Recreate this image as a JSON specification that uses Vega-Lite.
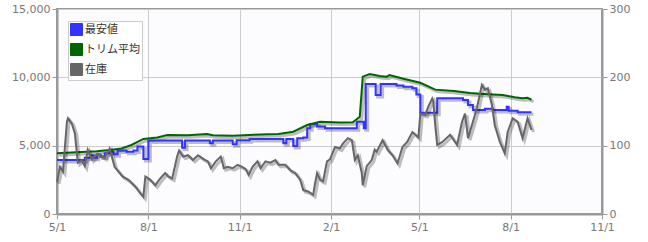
{
  "$schema": "https://vega.github.io/schema/vega-lite/v6.json",
  "width": 545,
  "height": 205,
  "autosize": "none",
  "padding": {"left": 57, "top": 9, "right": 46, "bottom": 28},
  "background": "white",
  "config": {
    "view": {"fill": "#fcfcff", "stroke": "#999999", "strokeWidth": 2},
    "font": "DejaVu Sans",
    "axis": {
      "labelFont": "DejaVu Sans",
      "labelFontSize": 11,
      "labelColor": "#777777",
      "domainColor": "#999999",
      "domainWidth": 2,
      "tickColor": "#999999",
      "tickSize": 5,
      "gridColor": "#cccccc",
      "title": null
    }
  },
  "datasets": {
    "price": [
      {"date": "2022-05-01", "series": "最安値", "value": 3950},
      {"date": "2022-05-29", "series": "最安値", "value": 4120},
      {"date": "2022-06-04", "series": "最安値", "value": 4300},
      {"date": "2022-06-07", "series": "最安値", "value": 4120},
      {"date": "2022-06-10", "series": "最安値", "value": 4350},
      {"date": "2022-06-14", "series": "最安値", "value": 4200},
      {"date": "2022-06-18", "series": "最安値", "value": 4450},
      {"date": "2022-06-23", "series": "最安値", "value": 4550},
      {"date": "2022-06-27", "series": "最安値", "value": 4380},
      {"date": "2022-07-01", "series": "最安値", "value": 4650},
      {"date": "2022-07-10", "series": "最安値", "value": 4550},
      {"date": "2022-07-17", "series": "最安値", "value": 4650},
      {"date": "2022-07-21", "series": "最安値", "value": 4930},
      {"date": "2022-07-27", "series": "最安値", "value": 4020},
      {"date": "2022-08-01", "series": "最安値", "value": 5370},
      {"date": "2022-09-04", "series": "最安値", "value": 4850},
      {"date": "2022-09-07", "series": "最安値", "value": 5370},
      {"date": "2022-10-02", "series": "最安値", "value": 5170},
      {"date": "2022-10-05", "series": "最安値", "value": 5370},
      {"date": "2022-10-25", "series": "最安値", "value": 5100},
      {"date": "2022-10-29", "series": "最安値", "value": 5400},
      {"date": "2022-11-11", "series": "最安値", "value": 5490},
      {"date": "2022-12-15", "series": "最安値", "value": 5170},
      {"date": "2022-12-18", "series": "最安値", "value": 5490},
      {"date": "2022-12-25", "series": "最安値", "value": 4980},
      {"date": "2022-12-29", "series": "最安値", "value": 5540},
      {"date": "2023-01-04", "series": "最安値", "value": 5600},
      {"date": "2023-01-08", "series": "最安値", "value": 6270},
      {"date": "2023-01-11", "series": "最安値", "value": 6590},
      {"date": "2023-01-18", "series": "最安値", "value": 6400},
      {"date": "2023-01-26", "series": "最安値", "value": 6270},
      {"date": "2023-02-27", "series": "最安値", "value": 6750},
      {"date": "2023-03-06", "series": "最安値", "value": 6270},
      {"date": "2023-03-08", "series": "最安値", "value": 9510},
      {"date": "2023-03-18", "series": "最安値", "value": 8700},
      {"date": "2023-03-23", "series": "最安値", "value": 9510},
      {"date": "2023-04-08", "series": "最安値", "value": 9400},
      {"date": "2023-04-15", "series": "最安値", "value": 9310},
      {"date": "2023-04-24", "series": "最安値", "value": 9200},
      {"date": "2023-04-28", "series": "最安値", "value": 8750},
      {"date": "2023-05-02", "series": "最安値", "value": 7400},
      {"date": "2023-05-19", "series": "最安値", "value": 8470},
      {"date": "2023-06-14", "series": "最安値", "value": 8340},
      {"date": "2023-06-19", "series": "最安値", "value": 7970},
      {"date": "2023-06-24", "series": "最安値", "value": 7610},
      {"date": "2023-07-06", "series": "最安値", "value": 7700},
      {"date": "2023-07-14", "series": "最安値", "value": 7610},
      {"date": "2023-07-28", "series": "最安値", "value": 7850},
      {"date": "2023-07-30", "series": "最安値", "value": 7560},
      {"date": "2023-08-08", "series": "最安値", "value": 7440},
      {"date": "2023-08-22", "series": "最安値", "value": 7440},
      {"date": "2022-05-01", "series": "トリム平均", "value": 4440},
      {"date": "2022-05-20", "series": "トリム平均", "value": 4520},
      {"date": "2022-06-10", "series": "トリム平均", "value": 4600},
      {"date": "2022-06-23", "series": "トリム平均", "value": 4680},
      {"date": "2022-07-05", "series": "トリム平均", "value": 4800},
      {"date": "2022-07-15", "series": "トリム平均", "value": 5050},
      {"date": "2022-07-27", "series": "トリム平均", "value": 5490},
      {"date": "2022-08-10", "series": "トリム平均", "value": 5600},
      {"date": "2022-08-20", "series": "トリム平均", "value": 5780},
      {"date": "2022-09-10", "series": "トリム平均", "value": 5760},
      {"date": "2022-09-29", "series": "トリム平均", "value": 5850},
      {"date": "2022-10-05", "series": "トリム平均", "value": 5760},
      {"date": "2022-10-25", "series": "トリム平均", "value": 5730},
      {"date": "2022-11-15", "series": "トリム平均", "value": 5800},
      {"date": "2022-11-29", "series": "トリム平均", "value": 5830},
      {"date": "2022-12-10", "series": "トリム平均", "value": 5850},
      {"date": "2022-12-25", "series": "トリム平均", "value": 6020},
      {"date": "2023-01-08", "series": "トリム平均", "value": 6510},
      {"date": "2023-01-21", "series": "トリム平均", "value": 6750},
      {"date": "2023-02-10", "series": "トリム平均", "value": 6700},
      {"date": "2023-02-23", "series": "トリム平均", "value": 6710},
      {"date": "2023-03-02", "series": "トリム平均", "value": 7120},
      {"date": "2023-03-05", "series": "トリム平均", "value": 10050},
      {"date": "2023-03-12", "series": "トリム平均", "value": 10240},
      {"date": "2023-03-22", "series": "トリム平均", "value": 10100},
      {"date": "2023-03-29", "series": "トリム平均", "value": 10050},
      {"date": "2023-04-01", "series": "トリム平均", "value": 10170},
      {"date": "2023-04-15", "series": "トリム平均", "value": 9900},
      {"date": "2023-05-02", "series": "トリム平均", "value": 9600},
      {"date": "2023-05-17", "series": "トリム平均", "value": 9100},
      {"date": "2023-06-05", "series": "トリム平均", "value": 9000},
      {"date": "2023-06-21", "series": "トリム平均", "value": 8850},
      {"date": "2023-07-01", "series": "トリム平均", "value": 8800},
      {"date": "2023-07-24", "series": "トリム平均", "value": 8710},
      {"date": "2023-08-05", "series": "トリム平均", "value": 8550},
      {"date": "2023-08-13", "series": "トリム平均", "value": 8470},
      {"date": "2023-08-18", "series": "トリム平均", "value": 8500},
      {"date": "2023-08-22", "series": "トリム平均", "value": 8360}
    ],
    "stock": [
      {"date": "2022-05-01", "series": "在庫", "value": 47},
      {"date": "2022-05-04", "series": "在庫", "value": 69},
      {"date": "2022-05-07", "series": "在庫", "value": 62},
      {"date": "2022-05-11", "series": "在庫", "value": 135},
      {"date": "2022-05-12", "series": "在庫", "value": 140},
      {"date": "2022-05-16", "series": "在庫", "value": 132},
      {"date": "2022-05-19", "series": "在庫", "value": 118},
      {"date": "2022-05-22", "series": "在庫", "value": 75},
      {"date": "2022-05-26", "series": "在庫", "value": 79},
      {"date": "2022-05-29", "series": "在庫", "value": 70},
      {"date": "2022-06-01", "series": "在庫", "value": 94},
      {"date": "2022-06-05", "series": "在庫", "value": 80},
      {"date": "2022-06-11", "series": "在庫", "value": 88},
      {"date": "2022-06-18", "series": "在庫", "value": 82},
      {"date": "2022-06-23", "series": "在庫", "value": 96},
      {"date": "2022-06-28", "series": "在庫", "value": 69},
      {"date": "2022-07-06", "series": "在庫", "value": 55},
      {"date": "2022-07-12", "series": "在庫", "value": 50},
      {"date": "2022-07-19", "series": "在庫", "value": 40},
      {"date": "2022-07-24", "series": "在庫", "value": 30},
      {"date": "2022-07-27", "series": "在庫", "value": 25},
      {"date": "2022-07-29", "series": "在庫", "value": 55},
      {"date": "2022-08-03", "series": "在庫", "value": 50},
      {"date": "2022-08-08", "series": "在庫", "value": 42},
      {"date": "2022-08-13", "series": "在庫", "value": 52},
      {"date": "2022-08-18", "series": "在庫", "value": 60},
      {"date": "2022-08-21", "series": "在庫", "value": 55},
      {"date": "2022-08-25", "series": "在庫", "value": 52},
      {"date": "2022-08-30", "series": "在庫", "value": 84},
      {"date": "2022-09-01", "series": "在庫", "value": 93},
      {"date": "2022-09-05", "series": "在庫", "value": 84},
      {"date": "2022-09-10", "series": "在庫", "value": 86},
      {"date": "2022-09-15", "series": "在庫", "value": 79},
      {"date": "2022-09-20", "series": "在庫", "value": 86},
      {"date": "2022-09-26", "series": "在庫", "value": 80},
      {"date": "2022-09-30", "series": "在庫", "value": 77},
      {"date": "2022-10-03", "series": "在庫", "value": 67},
      {"date": "2022-10-08", "series": "在庫", "value": 77},
      {"date": "2022-10-13", "series": "在庫", "value": 84},
      {"date": "2022-10-16", "series": "在庫", "value": 67},
      {"date": "2022-10-20", "series": "在庫", "value": 69},
      {"date": "2022-10-25", "series": "在庫", "value": 67},
      {"date": "2022-10-30", "series": "在庫", "value": 72},
      {"date": "2022-11-02", "series": "在庫", "value": 70},
      {"date": "2022-11-07", "series": "在庫", "value": 66},
      {"date": "2022-11-10", "series": "在庫", "value": 57},
      {"date": "2022-11-14", "series": "在庫", "value": 69},
      {"date": "2022-11-19", "series": "在庫", "value": 77},
      {"date": "2022-11-22", "series": "在庫", "value": 67},
      {"date": "2022-11-27", "series": "在庫", "value": 77},
      {"date": "2022-12-02", "series": "在庫", "value": 75},
      {"date": "2022-12-07", "series": "在庫", "value": 79},
      {"date": "2022-12-10", "series": "在庫", "value": 72},
      {"date": "2022-12-17", "series": "在庫", "value": 72},
      {"date": "2022-12-22", "series": "在庫", "value": 64},
      {"date": "2022-12-27", "series": "在庫", "value": 60},
      {"date": "2023-01-01", "series": "在庫", "value": 50},
      {"date": "2023-01-04", "series": "在庫", "value": 35},
      {"date": "2023-01-09", "series": "在庫", "value": 33},
      {"date": "2023-01-14", "series": "在庫", "value": 28},
      {"date": "2023-01-16", "series": "在庫", "value": 45},
      {"date": "2023-01-18", "series": "在庫", "value": 60},
      {"date": "2023-01-21", "series": "在庫", "value": 50},
      {"date": "2023-01-24", "series": "在庫", "value": 48},
      {"date": "2023-01-28", "series": "在庫", "value": 77},
      {"date": "2023-01-31", "series": "在庫", "value": 80},
      {"date": "2023-02-05", "series": "在庫", "value": 98},
      {"date": "2023-02-10", "series": "在庫", "value": 96},
      {"date": "2023-02-13", "series": "在庫", "value": 103},
      {"date": "2023-02-18", "series": "在庫", "value": 111},
      {"date": "2023-02-22", "series": "在庫", "value": 108},
      {"date": "2023-02-25", "series": "在庫", "value": 79},
      {"date": "2023-02-28", "series": "在庫", "value": 86},
      {"date": "2023-03-04", "series": "在庫", "value": 60},
      {"date": "2023-03-05", "series": "在庫", "value": 42},
      {"date": "2023-03-09", "series": "在庫", "value": 70},
      {"date": "2023-03-14", "series": "在庫", "value": 79},
      {"date": "2023-03-17", "series": "在庫", "value": 94},
      {"date": "2023-03-19", "series": "在庫", "value": 91},
      {"date": "2023-03-25", "series": "在庫", "value": 108},
      {"date": "2023-03-30", "series": "在庫", "value": 94},
      {"date": "2023-04-04", "series": "在庫", "value": 86},
      {"date": "2023-04-09", "series": "在庫", "value": 74},
      {"date": "2023-04-14", "series": "在庫", "value": 98},
      {"date": "2023-04-19", "series": "在庫", "value": 106},
      {"date": "2023-04-24", "series": "在庫", "value": 120},
      {"date": "2023-04-30", "series": "在庫", "value": 112},
      {"date": "2023-05-02", "series": "在庫", "value": 147},
      {"date": "2023-05-07", "series": "在庫", "value": 145},
      {"date": "2023-05-10", "series": "在庫", "value": 157},
      {"date": "2023-05-14", "series": "在庫", "value": 169},
      {"date": "2023-05-15", "series": "在庫", "value": 165},
      {"date": "2023-05-17", "series": "在庫", "value": 130},
      {"date": "2023-05-19", "series": "在庫", "value": 101},
      {"date": "2023-05-24", "series": "在庫", "value": 105},
      {"date": "2023-06-01", "series": "在庫", "value": 116},
      {"date": "2023-06-08", "series": "在庫", "value": 101},
      {"date": "2023-06-13", "series": "在庫", "value": 135},
      {"date": "2023-06-16", "series": "在庫", "value": 147},
      {"date": "2023-06-19", "series": "在庫", "value": 111},
      {"date": "2023-06-23", "series": "在庫", "value": 130},
      {"date": "2023-06-28", "series": "在庫", "value": 155},
      {"date": "2023-07-03", "series": "在庫", "value": 189},
      {"date": "2023-07-06", "series": "在庫", "value": 182},
      {"date": "2023-07-09", "series": "在庫", "value": 184},
      {"date": "2023-07-13", "series": "在庫", "value": 160},
      {"date": "2023-07-16", "series": "在庫", "value": 130},
      {"date": "2023-07-21", "series": "在庫", "value": 106},
      {"date": "2023-07-26", "series": "在庫", "value": 89},
      {"date": "2023-07-29", "series": "在庫", "value": 120},
      {"date": "2023-08-03", "series": "在庫", "value": 140},
      {"date": "2023-08-08", "series": "在庫", "value": 135},
      {"date": "2023-08-13", "series": "在庫", "value": 111},
      {"date": "2023-08-18", "series": "在庫", "value": 140},
      {"date": "2023-08-22", "series": "在庫", "value": 123}
    ]
  },
  "encoding": {
    "x": {
      "field": "date",
      "type": "temporal",
      "scale": {"type": "utc", "domain": [{"year": 2022, "month": 5, "date": 1, "utc": true}, {"year": 2023, "month": 11, "date": 1, "utc": true}]},
      "axis": {
        "labelExpr": "utcFormat(datum.value, '%-m/%-d')",
        "grid": true,
        "labelFlush": false,
        "labelOverlap": false,
        "values": [
          {"year": 2022, "month": 5, "date": 1, "utc": true},
          {"year": 2022, "month": 8, "date": 1, "utc": true},
          {"year": 2022, "month": 11, "date": 1, "utc": true},
          {"year": 2023, "month": 2, "date": 1, "utc": true},
          {"year": 2023, "month": 5, "date": 1, "utc": true},
          {"year": 2023, "month": 8, "date": 1, "utc": true},
          {"year": 2023, "month": 11, "date": 1, "utc": true}
        ]
      }
    }
  },
  "layer": [
    {
      "data": {"name": "price"},
      "encoding": {
        "y": {
          "field": "value",
          "type": "quantitative",
          "scale": {"domain": [0, 15000]},
          "axis": {"orient": "left", "values": [0, 5000, 10000, 15000], "labelExpr": "format(datum.value, ',')", "grid": true}
        }
      },
      "layer": [
        {
          "transform": [{"filter": "datum.series === '最安値'"}],
          "mark": {"type": "line", "interpolate": "step-after", "stroke": "#000000", "strokeOpacity": 0.25, "strokeWidth": 3, "xOffset": 2, "yOffset": 2},
          "encoding": {}
        },
        {
          "transform": [{"filter": "datum.series === 'トリム平均'"}],
          "mark": {"type": "line", "stroke": "#000000", "strokeOpacity": 0.25, "strokeWidth": 3, "xOffset": 2, "yOffset": 2},
          "encoding": {}
        },
        {
          "transform": [{"filter": "datum.series === '最安値'"}],
          "mark": {"type": "line", "interpolate": "step-after", "strokeWidth": 2},
          "encoding": {
            "color": {
              "field": "series",
              "type": "nominal",
              "scale": {"domain": ["最安値", "トリム平均", "在庫"], "range": ["#3333ff", "#006600", "#666666"]},
              "legend": {
                "orient": "none",
                "legendX": 11,
                "legendY": 12,
                "title": null,
                "fillColor": "#ffffff",
                "strokeColor": "#cccccc",
                "padding": 2,
                "symbolType": "square",
                "symbolSize": 144,
                "symbolStrokeWidth": 1,
                "labelFont": "DejaVu Sans, Noto Sans CJK JP",
                "labelFontSize": 11,
                "labelColor": "#333333",
                "labelOffset": 2,
                "rowPadding": 3,
                "encode": {"symbols": {"update": {"fill": {"field": "value", "scale": "color"}, "stroke": {"value": "#cccccc"}, "fillOpacity": {"value": 1}}}}
              }
            }
          }
        },
        {
          "transform": [{"filter": "datum.series === 'トリム平均'"}],
          "mark": {"type": "line", "strokeWidth": 2},
          "encoding": {"color": {"field": "series", "type": "nominal"}}
        }
      ]
    },
    {
      "data": {"name": "stock"},
      "encoding": {
        "y": {
          "field": "value",
          "type": "quantitative",
          "scale": {"domain": [0, 300]},
          "axis": {"orient": "right", "values": [0, 100, 200, 300], "grid": false}
        }
      },
      "layer": [
        {
          "mark": {"type": "line", "stroke": "#000000", "strokeOpacity": 0.25, "strokeWidth": 3, "xOffset": 2, "yOffset": 2},
          "encoding": {}
        },
        {
          "mark": {"type": "line", "strokeWidth": 2},
          "encoding": {"color": {"field": "series", "type": "nominal"}}
        }
      ]
    }
  ],
  "resolve": {"scale": {"y": "independent"}}
}
